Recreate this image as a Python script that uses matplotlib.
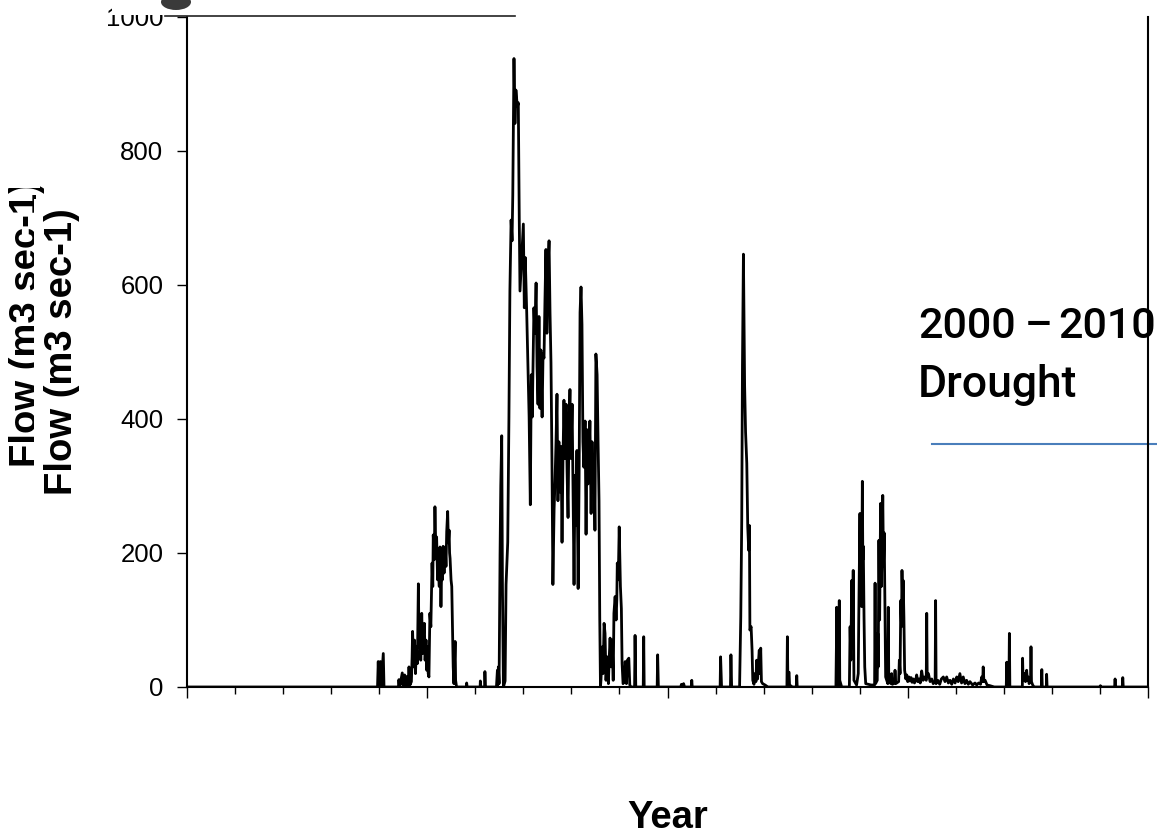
import numpy as np
import matplotlib.pyplot as plt
from matplotlib.patches import Rectangle, Ellipse
from matplotlib.lines import Line2D

plt.rcParams['font.family'] = ['Liberation Sans', 'DejaVu Sans']

# daily river flow, (decimal year, flow in m3/s)
flow_1970s = [
    (1970.00, 0), (1977.93, 0), (1977.96, 38), (1977.99, 0), (1978.05, 38), (1978.08, 0),
    (1978.17, 50), (1978.20, 0), (1978.80, 0), (1978.82, 11), (1978.85, 0), (1978.96, 21),
    (1978.99, 3), (1979.06, 18), (1979.10, 2), (1979.17, 16), (1979.20, 2), (1979.24, 30),
    (1979.28, 3), (1979.34, 8), (1979.37, 45), (1979.39, 83), (1979.43, 30), (1979.47, 70),
    (1979.51, 20), (1979.55, 60), (1979.59, 35), (1979.63, 154), (1979.66, 60), (1979.70, 100),
    (1979.73, 40), (1979.77, 110), (1979.81, 50), (1979.84, 75), (1979.88, 95), (1979.91, 40),
    (1979.95, 70), (1979.98, 25),
]

flow_early_1980s = [
    (1980.01, 60), (1980.04, 20), (1980.07, 15), (1980.11, 110), (1980.15, 90), (1980.20, 185),
    (1980.23, 150), (1980.25, 227), (1980.29, 190), (1980.32, 269), (1980.36, 200), (1980.39, 224),
    (1980.43, 160), (1980.46, 180), (1980.50, 150), (1980.53, 209), (1980.57, 120), (1980.60, 175),
    (1980.63, 160), (1980.66, 210), (1980.70, 170), (1980.73, 200), (1980.75, 209), (1980.78, 180),
    (1980.81, 232), (1980.85, 262), (1980.88, 215), (1980.91, 234), (1980.93, 200), (1980.95, 192),
    (1980.99, 160), (1981.02, 150), (1981.06, 65), (1981.08, 30), (1981.11, 5), (1981.16, 68),
    (1981.18, 10), (1981.22, 0), (1981.63, 0), (1981.64, 6), (1981.66, 0), (1982.20, 0),
    (1982.21, 9), (1982.23, 0), (1982.39, 0), (1982.40, 23), (1982.42, 0), (1982.88, 0),
    (1982.92, 25), (1982.94, 3), (1982.96, 30), (1982.99, 5),
]

flow_wet_1983_87 = [
    (1983.03, 197), (1983.06, 300), (1983.10, 375), (1983.13, 150), (1983.17, 0), (1983.24, 9),
    (1983.28, 153), (1983.35, 216), (1983.40, 403), (1983.44, 591), (1983.49, 697), (1983.53, 666),
    (1983.56, 734), (1983.61, 938), (1983.65, 841), (1983.69, 891), (1983.75, 866), (1983.79, 872),
    (1983.83, 697), (1983.86, 591), (1983.93, 641), (1984.00, 691), (1984.04, 566), (1984.08, 641),
    (1984.14, 559), (1984.18, 497), (1984.24, 403), (1984.29, 272), (1984.33, 466), (1984.37, 403),
    (1984.44, 566), (1984.48, 528), (1984.53, 603), (1984.57, 478), (1984.61, 422), (1984.65, 553),
    (1984.69, 416), (1984.73, 503), (1984.78, 403), (1984.82, 497), (1984.86, 491), (1984.90, 578),
    (1984.94, 653), (1984.98, 528), (1985.03, 628), (1985.07, 666), (1985.11, 559), (1985.15, 484),
    (1985.19, 341), (1985.23, 153), (1985.28, 266), (1985.32, 309), (1985.36, 366), (1985.40, 437),
    (1985.44, 278), (1985.48, 366), (1985.53, 291), (1985.57, 359), (1985.61, 216), (1985.65, 341),
    (1985.69, 428), (1985.73, 341), (1985.78, 422), (1985.82, 322), (1985.86, 253), (1985.90, 391),
    (1985.94, 444), (1985.98, 341), (1986.03, 422), (1986.07, 291), (1986.11, 153), (1986.15, 316),
    (1986.19, 241), (1986.23, 353), (1986.28, 147), (1986.32, 309), (1986.36, 559), (1986.40, 597),
    (1986.44, 541), (1986.48, 366), (1986.52, 328), (1986.57, 397), (1986.61, 228), (1986.65, 384),
    (1986.69, 303), (1986.73, 334), (1986.77, 397), (1986.82, 259), (1986.86, 366), (1986.90, 291),
    (1986.94, 347), (1986.98, 234), (1987.02, 497), (1987.07, 466), (1987.11, 366), (1987.15, 278),
    (1987.18, 103), (1987.21, 0),
]

flow_1987_96 = [
    (1987.23, 10), (1987.29, 60), (1987.32, 20), (1987.36, 95), (1987.40, 80), (1987.44, 10),
    (1987.49, 45), (1987.54, 5), (1987.57, 40), (1987.61, 73), (1987.65, 30), (1987.70, 70),
    (1987.74, 10), (1987.77, 110), (1987.82, 135), (1987.86, 100), (1987.89, 130), (1987.91, 185),
    (1987.95, 160), (1987.99, 239), (1988.04, 150), (1988.08, 117), (1988.11, 35), (1988.15, 5),
    (1988.20, 8), (1988.24, 38), (1988.29, 5), (1988.33, 40), (1988.39, 43), (1988.43, 3),
    (1988.48, 0), (1988.63, 0), (1988.65, 77), (1988.68, 0), (1988.99, 0), (1989.01, 75),
    (1989.03, 0), (1989.57, 0), (1989.59, 48), (1989.62, 0), (1990.55, 0), (1990.58, 4),
    (1990.62, 0), (1990.67, 5), (1990.71, 0), (1990.99, 0), (1991.01, 10), (1991.03, 0),
    (1992.19, 0), (1992.21, 45), (1992.25, 0), (1992.62, 0), (1992.64, 48), (1992.67, 0),
    (1993.00, 0), (1993.05, 105), (1993.09, 249), (1993.12, 480), (1993.16, 646), (1993.18, 560),
    (1993.21, 450), (1993.25, 380), (1993.30, 334), (1993.34, 239), (1993.38, 204), (1993.41, 241),
    (1993.43, 85), (1993.48, 90), (1993.52, 55), (1993.55, 10), (1993.60, 4), (1993.64, 20),
    (1993.68, 8), (1993.71, 40), (1993.75, 12), (1993.78, 35), (1993.82, 55), (1993.85, 20),
    (1993.88, 58), (1993.91, 8), (1993.96, 5), (1994.06, 3), (1994.18, 0), (1994.97, 0),
    (1994.99, 75), (1995.01, 10), (1995.03, 20), (1995.06, 22), (1995.08, 3), (1995.20, 0),
    (1995.36, 0), (1995.38, 17), (1995.40, 0),
]

flow_1997_2003 = [
    (1997.01, 0), (1997.03, 60), (1997.04, 119), (1997.06, 5), (1997.13, 3), (1997.15, 129),
    (1997.17, 10), (1997.25, 0), (1997.57, 0), (1997.60, 90), (1997.63, 40), (1997.67, 159),
    (1997.70, 60), (1997.73, 174), (1997.76, 10), (1997.87, 3), (1997.94, 20), (1997.96, 100),
    (1998.01, 259), (1998.03, 150), (1998.05, 200), (1998.08, 120), (1998.11, 307), (1998.13, 190),
    (1998.15, 210), (1998.18, 104), (1998.21, 30), (1998.25, 5), (1998.47, 3), (1998.62, 3),
    (1998.64, 155), (1998.66, 5), (1998.73, 10), (1998.75, 80), (1998.77, 30), (1998.80, 219),
    (1998.83, 100), (1998.87, 274), (1998.90, 150), (1998.93, 200), (1998.96, 286), (1998.99, 180),
    (1999.02, 230), (1999.05, 119), (1999.08, 15), (1999.17, 5), (1999.19, 119), (1999.21, 8),
    (1999.30, 5), (1999.33, 20), (1999.36, 4), (1999.45, 6), (1999.47, 25), (1999.50, 5),
    (1999.62, 8), (1999.65, 40), (1999.68, 20), (1999.71, 129), (1999.74, 90), (1999.76, 174),
    (1999.79, 120), (1999.81, 159), (1999.84, 104), (1999.87, 25), (1999.92, 12), (1999.96, 18),
    (2000.00, 8), (2000.05, 15), (2000.09, 9), (2000.14, 14), (2000.18, 7), (2000.23, 12),
    (2000.28, 6), (2000.33, 10), (2000.37, 18), (2000.42, 8), (2000.47, 12), (2000.52, 6),
    (2000.58, 24), (2000.64, 10), (2000.70, 15), (2000.77, 10), (2000.79, 110), (2000.81, 15),
    (2000.86, 20), (2000.93, 8), (2001.00, 12), (2001.06, 5), (2001.14, 8), (2001.16, 129),
    (2001.18, 5), (2001.25, 10), (2001.33, 4), (2001.40, 12), (2001.48, 15), (2001.55, 8),
    (2001.62, 15), (2001.69, 6), (2001.76, 10), (2001.83, 4), (2001.90, 12), (2001.97, 6),
    (2002.04, 15), (2002.10, 8), (2002.17, 20), (2002.24, 6), (2002.31, 15), (2002.38, 5),
    (2002.45, 10), (2002.52, 4), (2002.59, 8), (2002.70, 3), (2002.80, 6), (2002.87, 3),
    (2002.95, 6), (2003.03, 4), (2003.08, 15), (2003.12, 8), (2003.14, 30), (2003.17, 8),
    (2003.22, 10), (2003.30, 3), (2003.42, 2), (2003.60, 0),
]

flow_2004_10 = [
    (2004.10, 0), (2004.12, 37), (2004.14, 0), (2004.21, 0), (2004.23, 80), (2004.25, 0),
    (2004.77, 0), (2004.78, 43), (2004.80, 10), (2004.86, 20), (2004.90, 8), (2004.95, 25),
    (2004.98, 10), (2005.01, 15), (2005.05, 5), (2005.11, 8), (2005.13, 60), (2005.15, 8),
    (2005.20, 3), (2005.26, 0), (2005.56, 0), (2005.58, 26), (2005.60, 0), (2005.77, 0),
    (2005.78, 19), (2005.80, 0), (2008.00, 0), (2008.02, 2), (2008.04, 0), (2008.61, 0),
    (2008.63, 12), (2008.65, 0), (2008.93, 0), (2008.95, 14), (2008.97, 0), (2010.00, 0),
]

y_ticks = [0, 200, 400, 600, 800, 1000]
drought_years = [2001.0, 2010.4]
drought_level = 363

series = np.array(flow_1970s + flow_early_1980s + flow_wet_1983_87 + flow_1987_96
                  + flow_1997_2003 + flow_2004_10)
years, flow = series[:, 0], series[:, 1]

W, H = 1157, 832
fig = plt.figure(figsize=(W / 100, H / 100), dpi=100)
ax = fig.add_axes([187 / W, 1 - 687 / H, 961 / W, 670 / H])

ax.plot(years, flow, color='black', lw=2.0, zorder=2)

ax.set_xlim(1970, 2010)
ax.set_ylim(0, 1000)
ax.set_xticks(np.arange(1970, 2011, 10))
ax.set_xticks(np.arange(1970, 2011, 2), minor=True)
ax.set_yticks(y_ticks)
ax.tick_params(axis='x', which='major', length=8, width=1, labelbottom=False)
ax.tick_params(axis='x', which='minor', length=5, width=1)
ax.tick_params(axis='y', which='major', length=7, width=1, labelsize=18.5, pad=10)
ax.spines['top'].set_visible(False)
for side in ['left', 'bottom', 'right']:
    ax.spines[side].set_linewidth(1.5)

# drought period annotation
note = dict(transform=ax.transAxes, family='Roboto', fontweight='medium',
            va='baseline', zorder=1)
ax.text(0.7607, 0.5209, '2000', fontsize=31, **note)
ax.text(0.8720, 0.5209, '–', fontsize=31, **note)
ax.text(1.0080, 0.5209, '2010', fontsize=31, ha='right', **note)
ax.text(0.7607, 0.4328, 'Drought', fontsize=32, **note)
ax.plot(drought_years, [drought_level, drought_level], color='#4A7EBB', lw=1.5,
        clip_on=False, zorder=1)

# axis titles (y title appears twice, slightly offset)
fig.text(37 / W, 1 - 324 / H, 'Flow (m3 sec-1)', rotation=90, rotation_mode='anchor',
         ha='center', va='baseline', fontsize=27.5, fontweight='bold')
fig.add_artist(Rectangle((0, 1 - 188 / H), 40 / W, 188 / H, transform=fig.transFigure,
                         facecolor='white', edgecolor='none', zorder=5))
fig.text(72 / W, 1 - 352 / H, 'Flow (m3 sec-1)', rotation=90, rotation_mode='anchor',
         ha='center', va='baseline', fontsize=27.5, fontweight='bold',
         bbox=dict(facecolor='white', edgecolor='none', pad=7), zorder=6)
fig.text(667.5 / W, 1 - 828 / H, 'Year', ha='center', va='baseline',
         fontsize=27.5, fontweight='bold')

# banner strip along the top edge
fig.add_artist(Rectangle((112 / W, 1 - 15 / H), 403 / W, 15 / H, transform=fig.transFigure,
                         facecolor='white', edgecolor='none', zorder=10))
fig.add_artist(Line2D([165 / W, 515 / W], [1 - 15.5 / H, 1 - 15.5 / H],
                      transform=fig.transFigure, color='#222222', lw=1.2, zorder=11))
fig.add_artist(Ellipse((176 / W, 1 - 2 / H), 30 / W, 16 / H, transform=fig.transFigure,
                       facecolor='#3a3a3a', edgecolor='none', zorder=11))

fig.savefig('out.png', dpi=100)
